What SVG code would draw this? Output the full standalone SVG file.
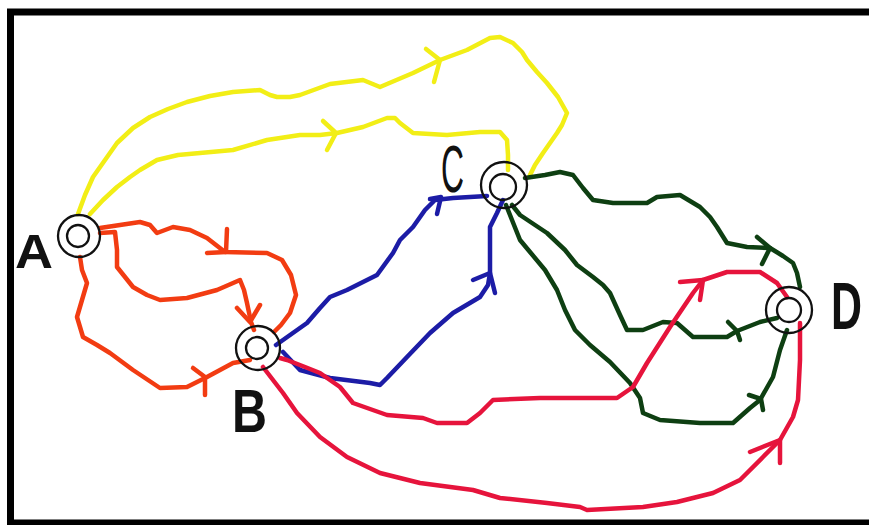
<svg xmlns="http://www.w3.org/2000/svg" width="869" height="525" viewBox="0 0 869 525">
<style>
.ln{fill:none;stroke-width:4.5;stroke-linejoin:round;stroke-linecap:round}
.y{stroke:#f2ee16}
.o{stroke:#f23c12}
.b{stroke:#1c1ca6}
.g{stroke:#0e3f12}
.r{stroke:#e6143c}
.ring{fill:none;stroke:#111;stroke-width:2.3}
.lbl{font-family:"Liberation Sans",Arial,sans-serif;fill:#111}
</style>
<rect x="0" y="0" width="869" height="525" fill="#fff"/>
<path d="M 869 12 H 10.5 V 523 H 869" fill="none" stroke="#000" stroke-width="7"/>
<g id="connectors">
<g id="yellow">
<path class="ln y" d="M 78 214 L 85 195 L 93 177 L 105 160 L 117 143 L 133 128 L 150 117 L 168 109 L 187 102 L 210 96 L 233 92 L 260 90 L 270 95 L 277 97 L 290 97 L 300 95 L 330 84 L 363 80 L 380 87 L 413 73 L 440 60 L 467 50 L 490 38 L 500 37 L 513 43 L 522 52 L 527 60 L 537 72 L 547 83 L 558 97 L 567 113 L 562 125 L 557 133 L 550 143 L 543 153 L 535 165 L 530 175"/>
<path class="ln y" d="M 426 49 L 440 60 L 434 82"/>
<path class="ln y" d="M 90 214 L 103 200 L 117 187 L 130 177 L 140 170 L 157 160 L 178 155 L 200 153 L 233 150 L 267 140 L 300 135 L 320 135 L 337 133 L 363 127 L 387 118 L 395 118 L 400 123 L 413 133 L 447 135 L 480 132 L 500 132 L 507 140 L 508 155 L 508 170"/>
<path class="ln y" d="M 323 121 L 336 133 L 327 150"/>
</g>
<g id="orange">
<path class="ln o" d="M 100 228 L 140 222 L 150 225 L 157 233 L 173 227 L 190 230 L 207 238 L 225 252 L 267 253 L 282 260 L 291 275 L 296 295 L 290 313 L 281 325 L 274 332"/>
<path class="ln o" d="M 227 229 L 226 252 L 207 253"/>
<path class="ln o" d="M 100 233 L 115 232 L 117 250 L 117 267 L 125 277 L 133 287 L 147 295 L 160 300 L 187 298 L 217 290 L 240 280 L 244 290 L 247 303 L 251 322 L 254 330"/>
<path class="ln o" d="M 237 308 L 250 322 L 260 305"/>
<path class="ln o" d="M 80 257 L 82 270 L 87 283 L 82 300 L 77 317 L 83 337 L 97 345 L 110 353 L 133 370 L 160 388 L 187 387 L 207 377 L 233 363 L 250 360"/>
<path class="ln o" d="M 193 368 L 205 377 L 205 395"/>
</g>
<g id="blue">
<path class="ln b" d="M 276 345 L 283 340 L 307 323 L 320 308 L 330 297 L 347 290 L 377 275 L 393 253 L 400 240 L 413 227 L 425 210 L 435 200 L 453 198 L 487 196"/>
<path class="ln b" d="M 430 199 L 441 197 L 437 214"/>
<path class="ln b" d="M 283 352 L 300 370 L 330 378 L 370 383 L 380 385 L 387 378 L 407 357 L 430 333 L 453 313 L 480 297 L 488 285 L 490 273 L 490 250 L 490 227 L 497 213 L 503 200"/>
<path class="ln b" d="M 473 280 L 490 273 L 495 293"/>
</g>
<g id="green">
<path class="ln g" d="M 525 178 L 545 175 L 560 172 L 573 175 L 583 188 L 593 200 L 613 203 L 647 203 L 657 197 L 680 195 L 700 207 L 710 217 L 717 227 L 727 243 L 747 247 L 770 248 L 783 256 L 793 263 L 797 273 L 800 287"/>
<path class="ln g" d="M 757 237 L 770 248 L 762 264"/>
<path class="ln g" d="M 512 205 L 520 215 L 547 233 L 565 250 L 577 265 L 593 277 L 603 285 L 610 293 L 620 315 L 627 330 L 643 330 L 663 322 L 677 323 L 693 337 L 727 337 L 737 331 L 760 322 L 777 318"/>
<path class="ln g" d="M 728 322 L 737 331 L 740 340"/>
<path class="ln g" d="M 506 205 L 512 220 L 520 240 L 530 252 L 545 270 L 557 290 L 565 310 L 575 330 L 590 345 L 610 362 L 630 383 L 640 398 L 643 413 L 660 420 L 700 423 L 733 423 L 750 408 L 760 400 L 773 377 L 780 350 L 787 330"/>
<path class="ln g" d="M 749 395 L 761 399 L 763 410"/>
</g>
<g id="crimson">
<path class="ln r" d="M 280 358 L 287 360 L 305 367 L 320 373 L 340 387 L 353 403 L 387 415 L 423 418 L 437 423 L 467 423 L 480 413 L 493 400 L 540 398 L 580 398 L 617 398 L 633 387 L 647 363 L 670 327 L 693 293 L 703 280 L 727 272 L 760 272 L 777 283 L 787 297"/>
<path class="ln r" d="M 680 282 L 703 280 L 700 300"/>
<path class="ln r" d="M 263 367 L 273 380 L 283 393 L 297 413 L 320 437 L 347 457 L 380 473 L 420 483 L 473 490 L 500 498 L 547 503 L 580 507 L 587 510 L 643 507 L 677 502 L 713 493 L 740 480 L 763 457 L 780 440 L 793 417 L 798 400 L 800 360 L 800 323"/>
<path class="ln r" d="M 750 452 L 780 440 L 780 463"/>
</g>
</g>
<g id="node-A">
<circle class="ring" cx="79" cy="236" r="21"/>
<circle class="ring" cx="78" cy="236" r="11"/>
<text class="lbl" x="15" y="268" font-size="48" font-weight="bold" textLength="38" lengthAdjust="spacingAndGlyphs">A</text>
</g>
<g id="node-B">
<circle class="ring" cx="258" cy="348" r="22"/>
<circle class="ring" cx="257" cy="348" r="11"/>
<text class="lbl" x="232" y="432" font-size="62" font-weight="bold" textLength="35" lengthAdjust="spacingAndGlyphs">B</text>
</g>
<g id="node-C">
<circle class="ring" cx="504" cy="185" r="23"/>
<circle class="ring" cx="503" cy="187" r="13"/>
<text class="lbl" x="441" y="192" font-size="66" textLength="23" lengthAdjust="spacingAndGlyphs">C</text>
</g>
<g id="node-D">
<circle class="ring" cx="789" cy="310" r="23"/>
<circle class="ring" cx="789" cy="310" r="12"/>
<text class="lbl" x="831" y="329" font-size="66" font-weight="bold" textLength="31" lengthAdjust="spacingAndGlyphs">D</text>
</g>
</svg>
